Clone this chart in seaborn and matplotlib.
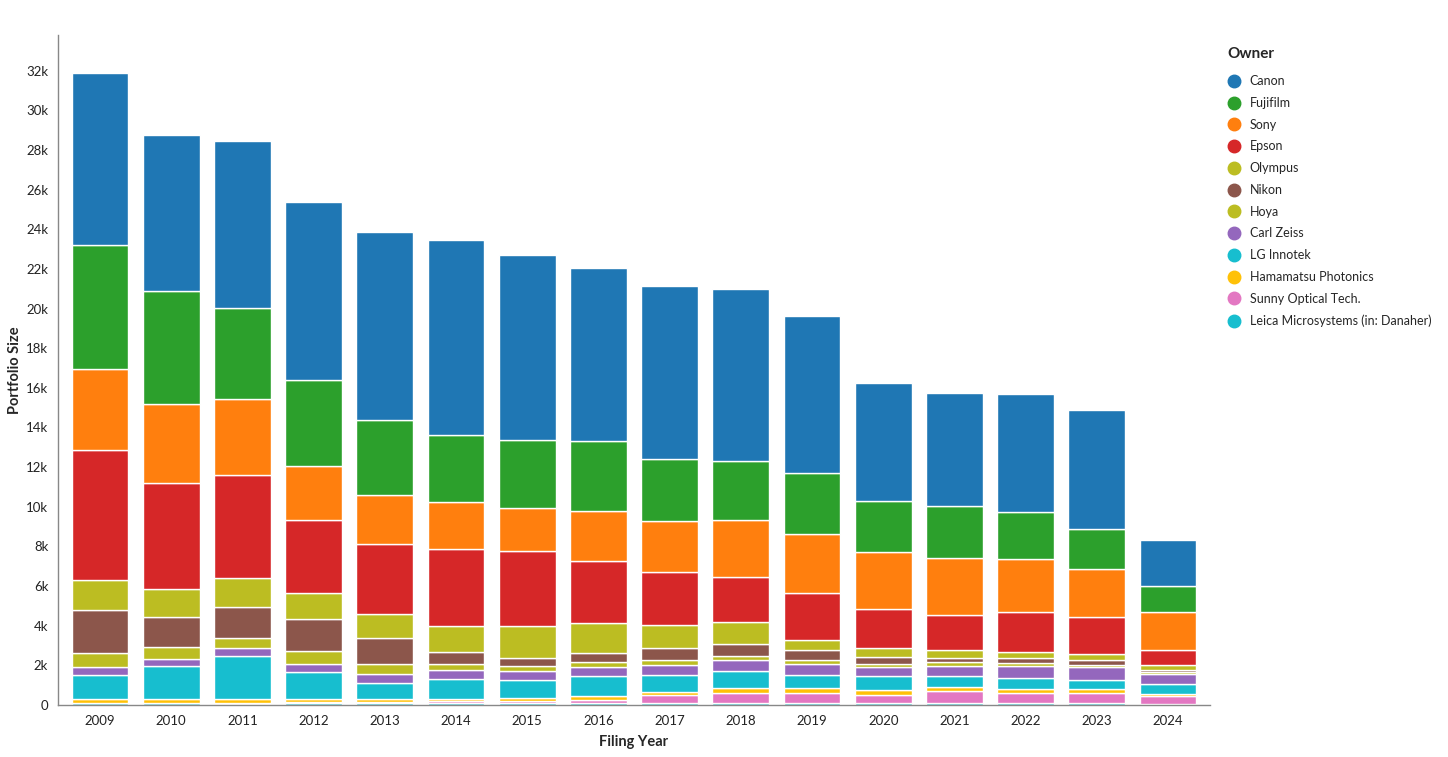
import pandas as pd
import matplotlib
matplotlib.use("Agg")
import matplotlib.pyplot as plt
from matplotlib.lines import Line2D
from matplotlib.ticker import FuncFormatter, MultipleLocator
import seaborn as sns

years = list(range(2009, 2025))

# portfolio size per owner and filing year
canon = [8680, 7860, 8395, 8985, 9505, 9870, 9300, 8710, 8730, 8670, 7930, 5960, 5710, 5995, 5975, 2295]
fujifilm = [6260, 5670, 4630, 4340, 3770, 3350, 3450, 3535, 3160, 2980, 3045, 2540, 2625, 2355, 2020, 1330]
sony = [4100, 3990, 3815, 2695, 2475, 2370, 2170, 2525, 2575, 2895, 3015, 2895, 2860, 2675, 2445, 1900]
epson = [6580, 5385, 5185, 3715, 3520, 3915, 3755, 3115, 2635, 2260, 2345, 1985, 1790, 1995, 1855, 775]
olympus = [1480, 1415, 1450, 1280, 1210, 1300, 1615, 1500, 1195, 1095, 490, 430, 390, 320, 290, 240]
nikon = [2205, 1515, 1595, 1630, 1310, 590, 435, 455, 605, 635, 495, 340, 205, 250, 270, 90]
hoya = [690, 605, 475, 640, 520, 300, 220, 280, 250, 200, 210, 165, 195, 165, 90, 120]
carl_zeiss = [420, 335, 405, 435, 470, 470, 470, 455, 505, 525, 555, 470, 520, 605, 650, 520]
lg_innotek = [1190, 1685, 2170, 1330, 790, 995, 895, 995, 820, 860, 685, 675, 555, 540, 470, 455]
hamamatsu = [190, 170, 240, 180, 170, 130, 150, 185, 200, 250, 220, 265, 200, 215, 200, 115]
sunny = [20, 30, 20, 20, 40, 100, 130, 180, 400, 505, 505, 390, 590, 475, 490, 390]
leica = [90, 80, 60, 110, 90, 90, 90, 90, 80, 120, 120, 120, 120, 120, 120, 75]

owners = ["Canon", "Fujifilm", "Sony", "Epson", "Olympus", "Nikon", "Hoya", "Carl Zeiss",
          "LG Innotek", "Hamamatsu Photonics", "Sunny Optical Tech.", "Leica Microsystems (in: Danaher)"]
series = [canon, fujifilm, sony, epson, olympus, nikon, hoya, carl_zeiss,
          lg_innotek, hamamatsu, sunny, leica]
colors = ["#1f77b4", "#2ca02c", "#ff7f0e", "#d62728", "#bcbd22", "#8c564b", "#bcbd22",
          "#9467bd", "#17becf", "#ffc107", "#e377c2", "#17becf"]

rows = []
for owner, vals in zip(owners, series):
    for y, v in zip(years, vals):
        rows.append({"Filing Year": y, "Owner": owner, "Portfolio Size": v})
df = pd.DataFrame(rows)
palette = dict(zip(owners, colors))

sns.set_style("white")
plt.rcParams["font.family"] = ["Lato", "DejaVu Sans"]

fig = plt.figure(figsize=(14.48, 7.57), dpi=100)
ax = fig.add_axes([58 / 1448, 52 / 757, 1152 / 1448, 670 / 757])

sns.histplot(data=df, x="Filing Year", weights="Portfolio Size", hue="Owner",
             hue_order=owners, palette=palette, multiple="stack", discrete=True,
             shrink=0.8, edgecolor="white", linewidth=1, alpha=1, legend=False, ax=ax)

ax.set_xlim(2009 - 0.59, 2024 + 0.59)
ax.set_ylim(0, 33800)
ax.set_xticks(years)
ax.yaxis.set_major_locator(MultipleLocator(2000))
ax.yaxis.set_major_formatter(FuncFormatter(lambda v, p: "0" if v == 0 else f"{int(v / 1000)}k"))
ax.tick_params(axis="both", length=5, width=1, color="#888888", labelsize=9.5, pad=2,
               labelcolor="#222222")

for s in ["top", "right"]:
    ax.spines[s].set_visible(False)
for s in ["left", "bottom"]:
    ax.spines[s].set_color("#888888")
    ax.spines[s].set_linewidth(1)

ax.set_xlabel("Filing Year", fontsize=10.5, fontweight="bold", labelpad=6)
ax.set_ylabel("Portfolio Size", fontsize=10.5, fontweight="bold", labelpad=3)

handles = [Line2D([0], [0], marker="o", linestyle="", markersize=9,
                  markerfacecolor=c, markeredgecolor=c) for c in colors]
leg = fig.legend(handles, owners, title="Owner", loc="upper left",
                 bbox_to_anchor=(1216 / 1448, 1 - 36 / 757), frameon=False,
                 fontsize=9, title_fontsize=11, labelspacing=0.78,
                 handletextpad=0.8, handlelength=1.0, alignment="left")
leg.get_title().set_fontweight("bold")
leg._legend_box.sep = 10

fig.savefig("out.png", dpi=100)
